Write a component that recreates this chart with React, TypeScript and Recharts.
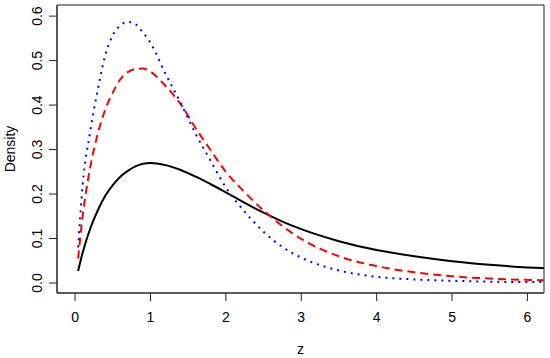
import { LineChart, Line, XAxis, YAxis, ReferenceArea } from 'recharts'

// z grid the curves were read at
const zValues = [
  0.04, 0.1, 0.2, 0.3, 0.4, 0.5, 0.6, 0.7, 0.8, 0.9, 1.0, 1.2, 1.4, 1.6, 1.8, 2.0,
  2.25, 2.5, 2.75, 3.0, 3.5, 4.0, 4.5, 5.0, 5.5, 6.0, 6.25,
]

// solid black
const solidDensity = [
  0.027, 0.068, 0.122, 0.163, 0.196, 0.22, 0.239, 0.252, 0.262, 0.268, 0.27, 0.265, 0.254,
  0.239, 0.222, 0.204, 0.18, 0.158, 0.138, 0.121, 0.094, 0.074, 0.06, 0.049, 0.041, 0.035,
  0.033,
]

// dashed red
const dashedDensity = [
  0.055, 0.15, 0.26, 0.335, 0.39, 0.428, 0.458, 0.474, 0.481, 0.482, 0.475, 0.443, 0.402,
  0.348, 0.298, 0.25, 0.204, 0.163, 0.128, 0.099, 0.06, 0.038, 0.024, 0.015, 0.01, 0.007,
  0.006,
]

// dotted blue
const dottedDensity = [
  0.08, 0.22, 0.34, 0.434, 0.512, 0.557, 0.579, 0.587, 0.582, 0.563, 0.54, 0.47, 0.405,
  0.335, 0.274, 0.215, 0.16, 0.115, 0.081, 0.057, 0.028, 0.014, 0.008, 0.005, 0.003, 0.002,
  0.002,
]

const xTicks = [0, 1, 2, 3, 4, 5, 6]
const yTicks = [0, 0.1, 0.2, 0.3, 0.4, 0.5, 0.6]
const xDomain = [-0.24, 6.22]
const yDomain = [-0.0225, 0.625]

const data = zValues.map((z, i) => ({
  z,
  solid: solidDensity[i],
  dashed: dashedDensity[i],
  dotted: dottedDensity[i],
}))

const font = '"Liberation Sans", Arial, sans-serif'
const axisColor = '#222'

function YTick(props: any) {
  const { y, payload } = props
  const x = 42
  return (
    <text
      x={x}
      y={y}
      transform={`rotate(-90, ${x}, ${y})`}
      textAnchor="middle"
      fontFamily={font}
      fontSize={14}
      fill="#000"
    >
      {Number(payload.value).toFixed(1)}
    </text>
  )
}

function DensityLabel(props: any) {
  const { viewBox } = props
  const x = 15
  const y = viewBox.y + viewBox.height / 2
  return (
    <text
      x={x}
      y={y}
      transform={`rotate(-90, ${x}, ${y})`}
      textAnchor="middle"
      fontFamily={font}
      fontSize={14}
      fill="#000"
    >
      Density
    </text>
  )
}

export default function App() {
  return (
    <div style={{ position: 'absolute', left: 0, top: 0, background: '#fff' }}>
      <LineChart
        width={550}
        height={358}
        data={data}
        margin={{ top: 5, right: 6, bottom: 0, left: 0 }}
      >
        <XAxis
          dataKey="z"
          type="number"
          domain={xDomain}
          allowDataOverflow
          ticks={xTicks}
          height={65}
          tickSize={8}
          tickMargin={11}
          stroke={axisColor}
          tick={{ fill: '#000', fontFamily: font, fontSize: 14 }}
          label={{
            value: 'z',
            position: 'insideBottom',
            offset: 4,
            fill: '#000',
            fontFamily: font,
            fontSize: 14,
          }}
        />
        <YAxis
          type="number"
          domain={yDomain}
          allowDataOverflow
          ticks={yTicks}
          width={57}
          tickSize={8}
          stroke={axisColor}
          tick={<YTick />}
          label={<DensityLabel />}
        />
        {/* plot box */}
        <ReferenceArea
          x1={xDomain[0]}
          x2={xDomain[1]}
          y1={yDomain[0]}
          y2={yDomain[1]}
          fill="none"
          stroke={axisColor}
          strokeWidth={1}
          ifOverflow="visible"
        />
        <Line
          type="monotone"
          dataKey="solid"
          stroke="#000"
          strokeWidth={2}
          dot={false}
          isAnimationActive={false}
        />
        <Line
          type="monotone"
          dataKey="dashed"
          stroke="#ff0000"
          strokeWidth={2}
          strokeDasharray="8 5"
          dot={false}
          isAnimationActive={false}
        />
        <Line
          type="monotone"
          dataKey="dotted"
          stroke="#0000ff"
          strokeWidth={2}
          strokeDasharray="2 5"
          dot={false}
          isAnimationActive={false}
        />
      </LineChart>
    </div>
  )
}
